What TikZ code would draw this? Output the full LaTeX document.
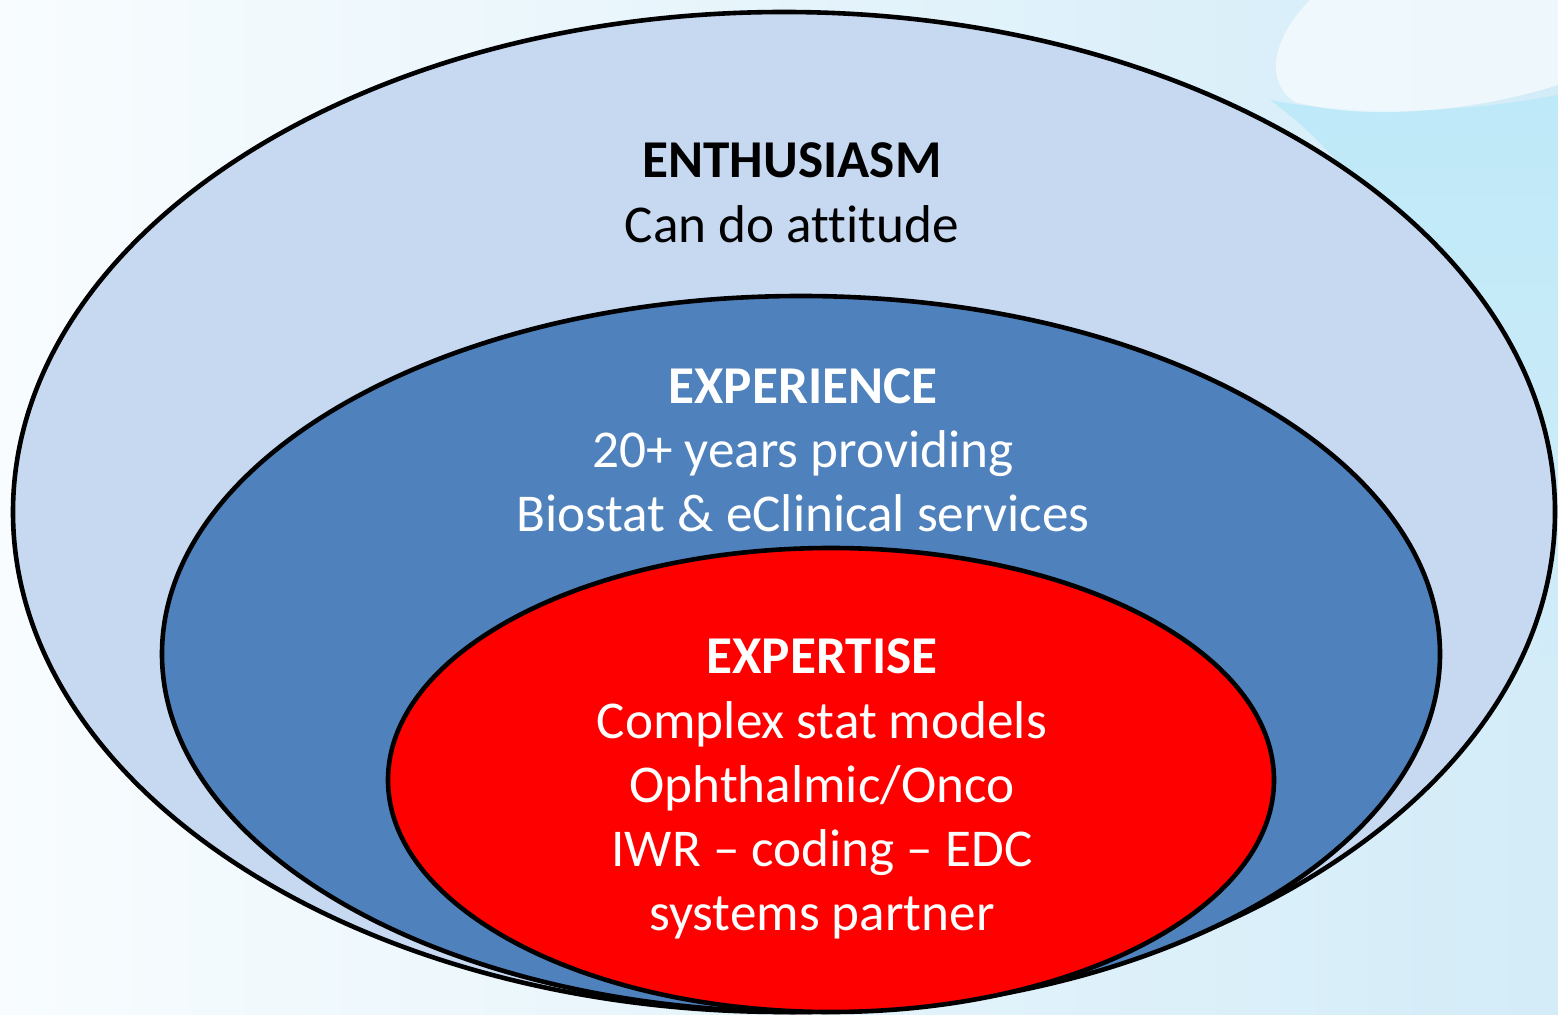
\documentclass[tikz,border=0pt]{standalone}
\usepackage{fontspec}
\setmainfont{Carlito}[Ligatures={NoCommon}]
\usetikzlibrary{shapes.geometric}
\definecolor{ringOuter}{HTML}{C6D9F1}
\definecolor{ringMid}{HTML}{4F81BD}
\definecolor{ringInner}{HTML}{FF0000}
\definecolor{bgLeft}{HTML}{F8FCFE}
\definecolor{bgRight}{HTML}{D3ECF8}
\definecolor{bgCyan}{HTML}{BEE9F8}
\begin{document}
\begin{tikzpicture}[x=0.5pt,y=-0.5pt,
  ring/.style={ellipse, draw=black, line width=2.3pt, inner sep=0pt},
  linebold/.style={anchor=base, inner sep=0pt, font=\fontsize{26.6}{32}\selectfont\bfseries},
  lineplain/.style={anchor=base, inner sep=0pt, font=\fontsize{26.6}{32}\selectfont}]
  % backdrop
  \useasboundingbox (0,0) rectangle (1558,1015);
  \shade[left color=bgLeft, right color=bgRight] (0,0) rectangle (1558,1015);
  \shade[top color=bgCyan, bottom color=bgRight] (1270,100) .. controls (1340,150) and (1410,240) .. (1450,370)
     .. controls (1490,500) and (1520,600) .. (1558,700) -- (1558,95)
     .. controls (1450,115) and (1350,115) .. cycle;
  \fill[white, opacity=0.6] (1310,0) .. controls (1275,35) and (1262,80) .. (1295,102)
     .. controls (1370,122) and (1480,110) .. (1558,85) -- (1558,0) -- cycle;

  % nested rings
  \node[ring, fill=ringOuter, minimum width=771pt, minimum height=500pt] (outer) at (784,512) {};
  \node[ring, fill=ringMid, minimum width=639pt, minimum height=358pt] (middle) at (801,654) {};
  \node[ring, fill=ringInner, minimum width=443pt, minimum height=232pt] (inner) at (831,780) {};

  % outer ring text
  \node[linebold, text=black] (t1) at (792,178) {ENTHUSIASM};
  \node[lineplain, text=black] (t2) at (792,243) {Can do attitude};

  % middle ring text
  \node[linebold, text=white] (m1) at (803,404) {EXPERIENCE};
  \node[lineplain, text=white] (m2) at (803,468) {20+ years providing};
  \node[lineplain, text=white] (m3) at (803,532) {Biostat \& eClinical services};

  % inner ring text
  \node[linebold, text=white] (i1) at (822,674) {EXPERTISE};
  \node[lineplain, text=white] (i2) at (822,738) {Complex stat models};
  \node[lineplain, text=white] (i3) at (822,802) {Ophthalmic/Onco};
  \node[lineplain, text=white] (i4) at (822,866) {IWR – coding – EDC};
  \node[lineplain, text=white] (i5) at (822,930) {systems partner};
\end{tikzpicture}
\end{document}
